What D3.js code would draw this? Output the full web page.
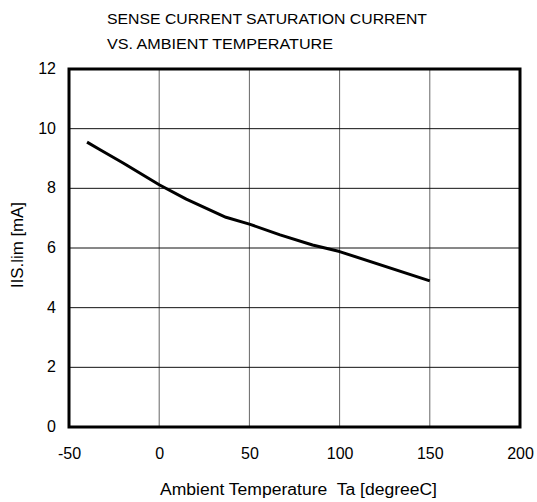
<!DOCTYPE html>
<html><head><meta charset="utf-8">
<script src="https://cdn.jsdelivr.net/npm/d3@7"></script>
<style>body{margin:0;background:#fff;} svg{display:block;}</style>
</head><body>
<script>
const titleLines = ["SENSE CURRENT SATURATION CURRENT", "VS. AMBIENT TEMPERATURE"];
const xLabel = "Ambient Temperature\u00a0 Ta [degreeC]";
const yLabel = "IIS.lim [mA]";
const xTicks = [-50, 0, 50, 100, 150, 200];
const yTicks = [0, 2, 4, 6, 8, 10, 12];
const temps = [-40, -33, -20, 0, 15, 37, 50, 67, 85, 100, 150];
const current = [9.55, 9.3, 8.85, 8.12, 7.64, 7.03, 6.8, 6.44, 6.1, 5.88, 4.9];

const W = 537, H = 502;
const m = {left: 69, right: 17, top: 69, bottom: 75};
const FF = "'Liberation Sans', Arial, Helvetica, sans-serif";
const svg = d3.select("body").append("svg").attr("width", W).attr("height", H)
  .style("font-family", FF);
const x = d3.scaleLinear().domain([-50, 200]).range([m.left, W - m.right]);
const y = d3.scaleLinear().domain([0, 12]).range([H - m.bottom, m.top]);

// grid
svg.append("g").selectAll("line").data(xTicks.slice(1, -1)).join("line")
  .attr("x1", d => x(d)).attr("x2", d => x(d)).attr("y1", y(0)).attr("y2", y(12))
  .attr("stroke", "#666").attr("stroke-width", 1);
svg.append("g").selectAll("line").data(yTicks.slice(1, -1)).join("line")
  .attr("x1", x(-50)).attr("x2", x(200)).attr("y1", d => y(d)).attr("y2", d => y(d))
  .attr("stroke", "#111").attr("stroke-width", 1);

// axes tick labels via d3 axes
const xa = svg.append("g").attr("transform", `translate(0,${y(0)})`)
  .call(d3.axisBottom(x).tickValues(xTicks).tickFormat(d => String(d)).tickSize(0).tickPadding(20));
const ya = svg.append("g").attr("transform", `translate(${x(-50)},0)`)
  .call(d3.axisLeft(y).tickValues(yTicks).tickFormat(d => String(d)).tickSize(0).tickPadding(13));
[xa, ya].forEach(g => {
  g.select(".domain").remove();
  g.selectAll("text").attr("font-size", 16).attr("fill", "#000")
    .style("font-family", FF);
});
xa.selectAll("text").attr("dy", null).attr("y", 32);
ya.selectAll("text").attr("dy", "0.28em");

// frame
svg.append("rect").attr("x", x(-50)).attr("y", y(12))
  .attr("width", x(200) - x(-50)).attr("height", y(0) - y(12))
  .attr("fill", "none").attr("stroke", "#000").attr("stroke-width", 3);

// curve
svg.append("path").datum(temps.map((t, i) => [t, current[i]]))
  .attr("d", d3.line().x(d => x(d[0])).y(d => y(d[1])))
  .attr("fill", "none").attr("stroke", "#000").attr("stroke-width", 3)
  .attr("stroke-linejoin", "round");

// titles
const titleW = [320, 226];
svg.append("g").selectAll("text").data(titleLines).join("text")
  .attr("x", 107).attr("y", (d, i) => 23.5 + i * 25)
  .attr("font-size", 15).attr("textLength", (d, i) => titleW[i])
  .attr("lengthAdjust", "spacingAndGlyphs").text(d => d);

svg.append("text").attr("x", 160).attr("y", 495)
  .attr("font-size", 16).attr("textLength", 277).attr("lengthAdjust", "spacingAndGlyphs")
  .text(xLabel);
svg.append("text").attr("transform", `translate(23,${245 + 43}) rotate(-90)`)
  .attr("font-size", 16).attr("textLength", 86).attr("lengthAdjust", "spacingAndGlyphs")
  .text(yLabel);
</script>
</body></html>
